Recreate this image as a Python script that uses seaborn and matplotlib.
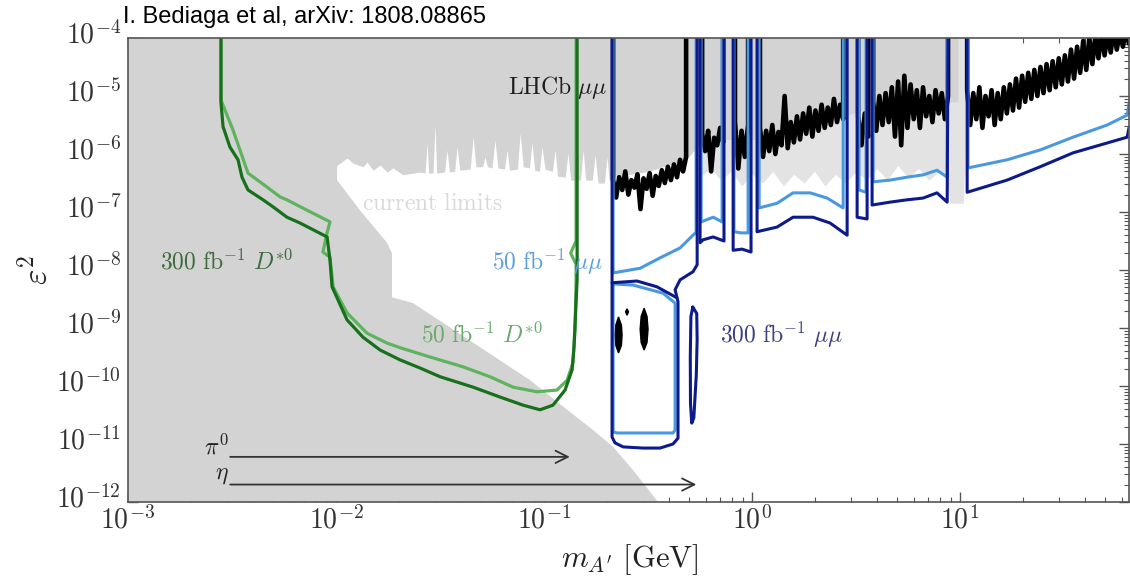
import numpy as np
import pandas as pd
import matplotlib
matplotlib.use("Agg")
import matplotlib.pyplot as plt
import seaborn as sns
from matplotlib.ticker import FuncFormatter, LogLocator, NullFormatter
from matplotlib.transforms import ScaledTranslation

# Masses are log10(m_A' / GeV), couplings are log10(eps^2).

# Existing bounds: low-mass (beam-dump) excluded region, closed outline
dump_logm = [-3.0, -3.0, -1.995, -1.995, -1.995, -1.885, -1.755, -1.731, -1.731,
             -1.630, -1.308, -1.067, -0.889, -0.764, -0.668, -0.572, -0.452]
dump_logeps2 = [-12.0, -4.0, -4.0, -6.22, -6.45, -6.97, -7.53, -7.71, -8.47,
                -8.57, -9.33, -9.90, -10.41, -10.76, -11.05, -11.45, -12.0]

# Existing bounds: lower edge of the prompt-search exclusions
prompt_logm = [-2.005, -1.947, -1.918, -1.870, -1.851, -1.822, -1.788, -1.755, -1.726, -1.678,
               -1.630, -1.596,
               -1.572, -1.562, -1.555, -1.534, -1.524, -1.516, -1.478, -1.466, -1.455,
               -1.430, -1.418, -1.405, -1.355, -1.341, -1.328, -1.296, -1.284, -1.272,
               -1.250, -1.236, -1.222, -1.190, -1.178, -1.166, -1.128, -1.115, -1.100,
               -1.070, -1.058, -1.045, -1.022, -1.010, -0.995, -0.960, -0.947, -0.935,
               -0.898, -0.885, -0.872, -0.825, -0.812, -0.800, -0.768, -0.755, -0.740,
               -0.710, -0.697, -0.688,
               -0.673, -0.50, -0.317, -0.245, -0.135, 0.024, 0.20, 0.438, 0.58, 0.94, 0.99]
prompt_logeps2 = [-6.22, -6.07, -6.16, -6.22, -6.14, -6.28, -6.19, -6.31, -6.24, -6.36,
                  -6.33, -6.31,
                  -6.33, -5.81, -6.33, -6.33, -5.50, -6.33, -6.31, -5.93, -6.31,
                  -6.30, -5.88, -6.28, -6.26, -5.71, -6.22, -6.22, -6.05, -6.22,
                  -6.24, -5.76, -6.24, -6.26, -5.93, -6.28, -6.26, -5.64, -6.22,
                  -6.24, -5.81, -6.28, -6.30, -5.88, -6.26, -6.30, -5.93, -6.38,
                  -6.40, -5.98, -6.45, -6.45, -5.93, -6.45, -6.45, -6.02, -6.50,
                  -6.50, -6.05, -6.45,
                  -6.40, -6.30, -6.10, -5.80, -5.75, -5.75, -5.55, -5.35, -5.20, -5.10, -5.10]

# Faint fringe of the 2017 LHCb prompt limit
fringe_logm = [-0.25, -0.20, -0.15, -0.10, -0.05, 0.0, 0.05, 0.10, 0.15, 0.20,
               0.25, 0.30, 0.35, 0.40, 0.45, 0.50, 0.55, 0.60, 0.65, 0.70,
               0.75, 0.80, 0.85, 0.90, 0.94, 0.95, 1.015, 1.024]
fringe_logeps2 = [-6.40, -6.25, -6.45, -6.30, -6.55, -6.35, -6.50, -6.30, -6.55, -6.35,
                  -6.50, -6.30, -6.55, -6.35, -6.50, -6.30, -6.45, -6.25, -6.45, -6.20,
                  -6.40, -6.25, -6.45, -6.30, -6.45, -6.85, -6.85, -6.0]

# D*0 -> D0 A' projections
d300_logm = [-2.553, -2.553, -2.543, -2.510, -2.471, -2.452, -2.423, -2.351, -2.303, -2.236,
             -2.173, -2.043, -2.029, -2.019, -1.947, -1.870, -1.788, -1.692, -1.596, -1.500,
             -1.341, -1.212, -1.101, -1.019, -0.957, -0.899, -0.865, -0.856, -0.841, -0.841]
d300_logeps2 = [-3.9, -5.12, -5.53, -5.88, -6.10, -6.40, -6.62, -6.79, -6.91, -7.09,
                -7.19, -7.43, -7.83, -8.29, -8.86, -9.16, -9.38, -9.55, -9.69, -9.84,
                -10.02, -10.19, -10.33, -10.41, -10.33, -10.07, -9.72, -9.33, -8.17, -3.9]
d50_logm = [-2.553, -2.553, -2.534, -2.495, -2.423, -2.332, -2.269, -2.236, -2.139, -2.029,
            -2.043, -2.063, -2.029, -2.014, -1.947, -1.851, -1.755, -1.692, -1.548, -1.389,
            -1.260, -1.149, -1.034, -0.938, -0.889, -0.861, -0.851, -0.846, -0.846, -0.872,
            -0.846, -0.846]
d50_logeps2 = [-3.9, -5.07, -5.24, -5.59, -6.33, -6.57, -6.74, -6.79, -6.97, -7.17,
               -7.36, -7.69, -7.78, -8.29, -8.74, -9.09, -9.26, -9.34, -9.50, -9.67,
               -9.84, -10.02, -10.10, -10.07, -9.90, -9.60, -9.03, -8.17, -7.90, -7.71,
               -7.50, -3.9]

# LHCb 2017 prompt di-muon limit: scan windows between resonance vetoes
lhcb_windows = [(-0.668, -0.317), (-0.240, -0.139), (-0.082, -0.019), (0.038, 0.438),
                (0.510, 0.558), (0.582, 0.942), (1.034, 1.812)]
lhcb_logeps2 = [
    [-6.45, -6.75, -6.40, -6.62, -6.30, -6.70, -6.45, -6.58, -6.35, -6.95, -6.42, -6.60, -6.33,
     -6.72, -6.38, -6.55, -6.28, -6.50, -6.22, -6.45, -6.18, -6.40, -6.10, -6.30, -6.05],
    [-5.65, -5.95, -5.60, -6.30, -5.72, -5.85, -5.55, -5.80],
    [-5.45, -6.25, -5.60, -6.05, -5.50],
    [-5.55, -6.05, -5.60, -5.95, -5.50, -6.00, -5.62, -5.85, -5.00, -5.90, -5.45, -5.80, -5.35,
     -5.75, -5.30, -5.65, -5.20, -5.70, -5.25, -5.60, -5.15, -5.55, -5.20, -5.50, -5.05, -5.45,
     -5.15, -5.40],
    [-5.35, -5.85, -5.30, -5.70],
    [-5.10, -5.60, -5.00, -5.50, -4.95, -5.45, -4.85, -5.70, -4.75, -5.85, -4.65, -5.55, -4.80,
     -5.40, -4.90, -5.55, -4.85, -5.35, -5.00, -5.45, -4.90, -5.30, -4.95, -5.40, -5.00],
    [-4.90, -5.50, -4.95, -5.40, -4.85, -5.55, -5.00, -5.35, -4.90, -5.50, -4.95,
     -5.40, -4.85, -5.30, -4.80, -5.25, -4.70, -5.20, -4.65, -5.10, -4.60, -5.05, -4.55,
     -5.00, -4.50, -4.95, -4.45, -4.90, -4.40, -4.85, -4.35, -4.80, -4.30,
     -4.75, -4.20, -4.70, -4.15, -4.60, -4.05, -4.55, -4.00, -4.45,
     -3.95, -4.35, -3.90, -4.30, -3.90, -4.25, -3.85, -4.20, -3.90, -4.15, -3.85, -4.10],
]

# LHCb displaced islands near 0.25 GeV
island_logm = [
    [-0.642, -0.628, -0.625, -0.628, -0.642, -0.655, -0.659, -0.655],
    [-0.601, -0.594, -0.601, -0.608],
    [-0.519, -0.505, -0.500, -0.505, -0.519, -0.533, -0.538, -0.533],
]
island_logeps2 = [
    [-8.81, -8.95, -9.12, -9.30, -9.43, -9.30, -9.12, -8.95],
    [-8.67, -8.72, -8.78, -8.72],
    [-8.66, -8.80, -9.02, -9.25, -9.38, -9.25, -9.02, -8.80],
]

# Upgrade projections, 50 fb^-1
mu50_logm = [
    [-0.668, -0.668, -0.538, -0.442, -0.346, -0.284, -0.269, -0.269],
    [-0.668, -0.668, -0.649, -0.380, -0.370, -0.370, -0.428, -0.572, -0.668],
    [-0.245, -0.245, -0.187, -0.144, -0.144],
    [-0.087, -0.087, -0.053, -0.019, -0.019],
    [0.034, 0.034, 0.120, 0.197, 0.279, 0.361, 0.438, 0.438],
    [0.514, 0.514, 0.548, 0.548],
    [0.582, 0.582, 0.663, 0.745, 0.822, 0.889, 0.938, 0.938],
    [1.038, 1.038, 1.226, 1.385, 1.543, 1.707, 1.803, 1.812],
]
mu50_logeps2 = [
    [-3.9, -8.05, -7.97, -7.79, -7.62, -7.40, -7.35, -3.9],
    [-8.24, -10.79, -10.81, -10.81, -10.76, -8.57, -8.40, -8.26, -8.24],
    [-3.9, -7.17, -7.09, -7.17, -3.9],
    [-3.9, -7.34, -7.36, -7.36, -3.9],
    [-3.9, -6.93, -6.85, -6.67, -6.67, -6.76, -6.93, -3.9],
    [-3.9, -6.62, -6.66, -3.9],
    [-3.9, -6.48, -6.45, -6.40, -6.36, -6.28, -6.40, -3.9],
    [-3.9, -6.24, -6.10, -5.93, -5.71, -5.50, -5.33, -5.12],
]

# Upgrade projections, 300 fb^-1
mu300_logm = [
    [-0.673, -0.673, -0.659, -0.620, -0.524, -0.442, -0.380, -0.356, -0.356, -0.370,
     -0.346, -0.284, -0.264, -0.264],
    [-0.673, -0.553, -0.457, -0.361],
    [-0.285, -0.266, -0.264, -0.268, -0.280, -0.290, -0.296, -0.297, -0.294, -0.285],
    [-0.250, -0.250, -0.236, -0.187, -0.135, -0.135],
    [-0.091, -0.091, -0.048, -0.005, -0.005],
    [0.024, 0.024, 0.120, 0.197, 0.293, 0.375, 0.457, 0.457],
    [0.505, 0.505, 0.553, 0.553],
    [0.577, 0.577, 0.663, 0.745, 0.822, 0.889, 0.938, 0.942],
    [1.034, 1.034, 1.226, 1.385, 1.543, 1.707, 1.803, 1.812],
]
mu300_logeps2 = [
    [-3.9, -10.88, -10.98, -11.05, -11.07, -11.07, -11.00, -10.90, -8.55, -8.34,
     -8.17, -8.03, -7.91, -3.9],
    [-8.22, -8.19, -8.29, -8.48],
    [-8.64, -8.75, -9.20, -9.80, -10.55, -10.64, -10.30, -9.50, -8.80, -8.64],
    [-3.9, -7.53, -7.48, -7.43, -7.50, -3.9],
    [-3.9, -7.66, -7.64, -7.69, -3.9],
    [-3.9, -7.34, -7.26, -7.09, -7.09, -7.19, -7.40, -3.9],
    [-3.9, -7.09, -7.12, -3.9],
    [-3.9, -6.88, -6.83, -6.79, -6.76, -6.67, -6.83, -3.9],
    [-3.9, -6.66, -6.45, -6.22, -5.98, -5.81, -5.71, -5.55],
]

# Meson mass reach (GeV) for pi0 and eta decays
meson_names = [r"$\pi^0$", r"$\eta$"]
meson_masses = [0.135, 0.548]
meson_start = 0.0031
meson_eps2 = [6.0e-12, 2.0e-12]

# ---------------------------------------------------------------------------
sns.set_theme(style="ticks")
plt.rcParams["mathtext.fontset"] = "cm"
plt.rcParams["font.family"] = ["DejaVu Serif"]

GRAY = "#d3d3d3"
FRINGE = "#e3e3e3"
DARKGREEN = "#17701c"
LIGHTGREEN = "#5fb35f"
LIGHTBLUE = "#4a98e0"
NAVY = "#0d1a8c"

fig = plt.figure(figsize=(11.3, 5.8), dpi=100)
ax = fig.add_axes([128 / 1130, 78 / 580, 1001 / 1130, 464 / 580])
ax.set_xscale("log")
ax.set_yscale("log")
ax.set_xlim(1e-3, 10 ** 1.812)
ax.set_ylim(1e-12, 1e-4)


def p10(v):
    return 10.0 ** np.asarray(v, dtype=float)


# existing exclusions
ax.fill_between(p10(fringe_logm), p10(fringe_logeps2), 1e-3, color=FRINGE, lw=0, zorder=1)
ax.fill_between(p10(prompt_logm), p10(prompt_logeps2), 1e-3, color=GRAY, lw=0, zorder=1.2)
ax.fill(p10(dump_logm), p10(dump_logeps2), color=GRAY, lw=0, zorder=1.2)


def draw_lines(ms, es, color, lw, z):
    rows = []
    for i, (lm, le) in enumerate(zip(ms, es)):
        for a, b in zip(lm, le):
            rows.append((10.0 ** a, 10.0 ** b, i))
    df = pd.DataFrame(rows, columns=["m", "eps2", "seg"])
    sns.lineplot(data=df, x="m", y="eps2", units="seg", estimator=None, sort=False,
                 color=color, linewidth=lw, ax=ax, legend=False, zorder=z)


draw_lines([d50_logm], [d50_logeps2], LIGHTGREEN, 2.3, 3)
draw_lines([d300_logm], [d300_logeps2], DARKGREEN, 2.3, 3.1)

# LHCb limit: scan inside each window, closed to the top at the veto edges
lhcb_m, lhcb_e = [], []
for k, ((lo, hi), vals) in enumerate(zip(lhcb_windows, lhcb_logeps2)):
    grid = list(np.linspace(lo, hi, len(vals)))
    seg_m = [lo] + grid
    seg_e = [-3.9] + list(vals)
    if k < len(lhcb_windows) - 1:
        seg_m.append(hi)
        seg_e.append(-3.9)
    lhcb_m.append(seg_m)
    lhcb_e.append(seg_e)
draw_lines(lhcb_m, lhcb_e, "black", 3.3, 4)
for lm, le in zip(island_logm, island_logeps2):
    ax.fill(p10(lm), p10(le), color="black", lw=1.0, zorder=4)

draw_lines(mu50_logm, mu50_logeps2, LIGHTBLUE, 2.2, 5)
draw_lines(mu300_logm, mu300_logeps2, NAVY, 2.2, 6)

# meson mass arrows
for name, mass, e2 in zip(meson_names, meson_masses, meson_eps2):
    ax.annotate("", xy=(mass, e2), xytext=(meson_start, e2),
                arrowprops=dict(arrowstyle="->", color="#333333", lw=1.3,
                                mutation_scale=22, shrinkA=0, shrinkB=1), zorder=7)
    ax.text(meson_start * 0.985, e2 * 1.5, name, ha="right", va="center",
            fontsize=17, color="#222222", zorder=7)

# curve labels
lab = dict(fontsize=17, va="center", zorder=8)
ax.text(0.201, 10 ** -4.86, r"$\mathrm{LHCb}\ \mu\mu$", ha="right", color="#1e1e1e", **lab)
ax.text(0.029, 10 ** -6.85, r"$\mathrm{current\ limits}$", ha="center", color="#d9d9d9", **lab)
ax.text(0.00299, 10 ** -7.86, r"$300\ \mathrm{fb}^{-1}\ D^{*0}$", ha="center", color="#3f6a3f", **lab)
ax.text(0.0504, 10 ** -9.12, r"$50\ \mathrm{fb}^{-1}\ D^{*0}$", ha="center", color="#6aaa6a", **lab)
ax.text(0.1045, 10 ** -7.86, r"$50\ \mathrm{fb}^{-1}\ \mu\mu$", ha="center", color="#5c9fdc", **lab)
ax.text(0.70, 10 ** -9.12, r"$300\ \mathrm{fb}^{-1}\ \mu\mu$", ha="left", color="#3c3f80", **lab)

# axes cosmetics
fmt = FuncFormatter(lambda v, p: r"$10^{%d}$" % int(round(np.log10(v))))
for axis in (ax.xaxis, ax.yaxis):
    axis.set_major_locator(LogLocator(base=10, numticks=30))
    axis.set_minor_locator(LogLocator(base=10, subs=np.arange(2, 10), numticks=200))
    axis.set_major_formatter(fmt)
    axis.set_minor_formatter(NullFormatter())
ax.tick_params(which="both", direction="in", top=True, right=True, color="#555555",
               labelcolor="#333333", labelsize=20)
ax.tick_params(which="major", length=7, width=1.0)
ax.tick_params(axis="x", which="major", pad=3)
ax.tick_params(axis="y", which="major", pad=5)
ax.tick_params(which="minor", length=3.5, width=0.8)
for s in ax.spines.values():
    s.set_color("#555555")
    s.set_linewidth(1.2)
    s.set_zorder(10)
ax.set_xlabel("")
ax.set_ylabel("")
ax.set_facecolor("white")

# y tick labels sit slightly above their ticks
lift = ScaledTranslation(0, 4 / 72, fig.dpi_scale_trans)
for t in ax.yaxis.get_majorticklabels():
    t.set_transform(t.get_transform() + lift)

fig.text(36 / 1130, 1 - 270 / 580, r"$\varepsilon^2$", rotation=90, fontsize=24,
         ha="center", va="center", color="#222222")
fig.text(630 / 1130, 1 - 560 / 580, r"$m_{A^\prime}\ [\mathrm{GeV}]$", fontsize=22,
         ha="center", va="center", color="#222222")
fig.text(123 / 1130, 1 - 17 / 580, "I. Bediaga et al, arXiv: 1808.08865",
         family="Liberation Sans", fontsize=17, ha="left", va="center", color="black")

fig.savefig("out.png", dpi=100, facecolor="white")
